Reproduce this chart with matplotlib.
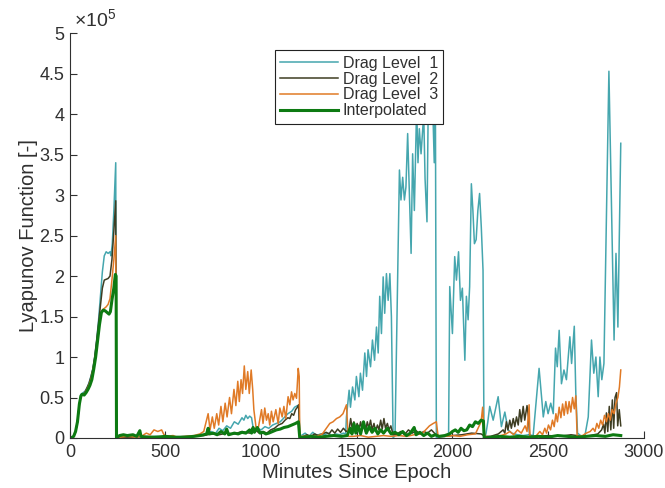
import matplotlib
matplotlib.use("Agg")
import matplotlib.pyplot as plt
from matplotlib.ticker import FuncFormatter

plt.rcParams['font.family'] = ['Liberation Sans', 'DejaVu Sans']
plt.rcParams['mathtext.fontset'] = 'custom'
plt.rcParams['mathtext.rm'] = 'Liberation Sans'

# ---------------- data (values in units of 1e5) ----------------
t1 = [0,10,20,30,40,50,58,70,80,90,100,110,120,130,140,150,160,170,180,190,200,210,215,222,230,240,243,
      260,300,350,400,450,500,550,600,650,700,720,740,760,780,800,820,840,860,880,900,910,920,930,940,950,960,980,
      1000,1020,1040,1060,1080,1100,1120,1140,1160,1175,1190,1198,1202,1210,1230,1250,1270,1290,1310,1330,1350,1370,
      1390,1410,1430,1442,
      1446,1460,1467,1478,1490,1498,1511,1519,1530,1542,1551,1559,1572,1582,1593,1603,1612,1620,1629,1638,1646,1655,
      1664,1673,1681,1690,1700,
      1723,1731,1740,1749,1757,1766,1784,1792,1801,1813,1820,1827,1836,1850,1857,1867,1874,1882,1888,1897,1905,1911,1916,
      1925,1960,1980,1986,2000,2012,2021,2032,2042,2052,2065,2073,2082,2090,2099,2107,2115,2124,2133,2142,2151,2160,2165,
      2175,2185,2195,2213,2239,2256,2274,2291,2310,2340,2370,2400,2422,2453,2475,2488,2500,2514,2527,2539,2548,2558,
      2570,2583,2596,2614,2623,2637,2645,2654,2670,2692,2710,2727,2739,2750,2762,2771,2781,2792,2818,2845,2855,2865,2880]
v1 = [0,0.005,0.02,0.08,0.2,0.42,0.54,0.56,0.58,0.62,0.68,0.76,0.85,1.0,1.2,1.45,1.75,2.05,2.25,2.3,2.28,2.3,2.25,2.4,2.8,3.4,0.0,
      0.02,0.01,0.02,0.01,0.02,0.01,0.01,0.02,0.02,0.04,0.06,0.08,0.05,0.12,0.09,0.15,0.12,0.2,0.17,0.25,0.22,0.28,0.24,0.27,0.25,0.1,0.12,
      0.1,0.14,0.12,0.16,0.18,0.2,0.25,0.3,0.33,0.38,0.4,0.38,0.0,0.03,0.06,0.02,0.07,0.03,0.05,0.04,0.06,0.03,
      0.05,0.04,0.06,0.05,
      0.26,0.59,0.38,0.63,0.47,0.76,0.51,0.80,0.59,1.05,0.76,1.09,0.88,1.21,0.96,1.37,1.05,1.75,1.29,1.99,1.54,2.03,
      1.70,2.03,1.50,0.0,0.03,
      3.31,2.94,3.22,2.94,3.1,3.76,2.28,3.51,2.81,4.1,3.4,3.82,3.51,4.0,3.2,2.67,4.2,3.9,4.3,4.1,3.4,4.2,0.0,
      0.01,0.02,0.05,1.87,1.29,2.24,1.95,2.30,1.70,1.85,0.96,1.75,1.46,1.87,3.14,2.81,2.40,2.45,2.81,3.02,2.6,2.07,0.0,
      0.05,0.2,0.39,0.22,0.51,0.14,0.32,0.10,0.06,0.04,0.03,0.04,0.03,0.86,0.26,0.45,0.30,0.43,0.30,1.11,0.88,1.33,
      0.67,0.84,0.72,1.25,0.92,1.38,0.55,0.06,0.03,0.02,0.26,1.21,0.80,1.00,0.51,1.0,0.72,0.92,4.53,1.21,2.28,1.37,3.64]

t2 = [0,10,20,30,40,50,58,70,80,90,100,110,120,130,140,150,160,170,180,190,200,210,220,230,240,243,
      260,320,400,480,560,640,700,740,780,820,860,900,940,970,990,1010,1030,1050,1070,1090,1110,1125,1140,1150,1160,
      1170,1180,1190,1196,1202,
      1220,1240,1260,1280,1300,1320,1340,1355,1370,1385,1400,1415,1430,1445,1460,1468,1476,1485,1493,1502,1510,1520,
      1528,1537,1545,1555,1563,1572,1580,1590,1598,1608,1616,1625,1633,1642,1650,1660,1668,1678,1690,
      1710,1730,1750,1770,1790,1810,1830,1850,1870,1890,1910,1930,1960,2000,2050,2100,2150,2170,2200,2240,2265,2274,
      2282,2290,2300,2308,2318,2326,2335,2344,2352,2360,2370,2378,2390,2398,2404,2440,2500,2560,2620,2680,2720,2760,
      2780,2790,2797,2805,2812,2820,2828,2836,2843,2850,2858,2864,2872,2880]
v2 = [0,0.005,0.02,0.08,0.2,0.42,0.52,0.54,0.57,0.62,0.67,0.75,0.85,1.0,1.2,1.42,1.65,1.85,1.95,1.96,1.97,2.0,2.2,2.55,2.93,0.0,
      0.01,0.01,0.02,0.01,0.01,0.02,0.03,0.05,0.04,0.06,0.05,0.08,0.06,0.1,0.06,0.08,0.06,0.1,0.12,0.16,0.18,0.22,0.25,0.24,0.3,
      0.28,0.35,0.38,0.41,0.0,
      0.02,0.04,0.02,0.05,0.03,0.05,0.07,0.05,0.1,0.06,0.11,0.07,0.12,0.08,0.1,0.24,0.12,0.2,0.1,0.18,0.09,0.2,
      0.1,0.16,0.08,0.2,0.12,0.22,0.1,0.18,0.08,0.16,0.1,0.22,0.11,0.24,0.12,0.18,0.1,0.15,0.04,
      0.05,0.08,0.04,0.1,0.06,0.09,0.05,0.08,0.06,0.1,0.05,0.02,0.02,0.03,0.04,0.06,0.05,0.02,0.02,0.05,0.1,0.06,
      0.2,0.1,0.22,0.12,0.24,0.14,0.26,0.16,0.35,0.2,0.39,0.22,0.4,0.25,0.02,0.02,0.03,0.02,0.04,0.02,0.03,0.05,
      0.1,0.17,0.06,0.31,0.08,0.39,0.1,0.47,0.12,0.5,0.56,0.15,0.35,0.15]

t3 = [0,10,20,30,40,50,58,70,80,90,100,110,120,130,140,150,160,170,180,190,200,210,220,230,240,243,
      260,300,350,380,400,420,440,460,480,490,500,540,560,600,650,680,700,
      723,733,745,755,768,778,790,800,812,822,835,845,858,868,878,886,895,903,912,920,930,938,948,956,962,975,985,
      1002,1010,1019,1028,1037,1045,1054,1063,1077,1089,1098,1110,1119,1129,1141,1150,1159,1167,1176,1185,1194,1199,1202,
      1220,1260,1289,1320,1341,1359,1376,1394,1411,1428,1446,1455,
      1480,1520,1560,1600,1640,1680,1720,1760,1800,1840,1860,1880,1900,1916,1925,1960,2000,2040,2080,2120,2150,2158,
      2165,2170,2200,2240,2280,2300,2320,2340,2360,2380,2390,2401,2405,2420,
      2439,2457,2471,2483,2492,2502,2513,2523,2532,2541,2549,2558,2567,2576,2584,2593,2602,2610,2619,2628,2637,2645,2652,
      2680,2700,2720,2735,2745,2755,2765,2775,2785,2795,2805,2815,2825,2835,2845,2855,2865,2873,2880]
v3 = [0,0.005,0.02,0.08,0.2,0.42,0.52,0.53,0.56,0.6,0.65,0.72,0.82,0.95,1.1,1.3,1.5,1.58,1.6,1.62,1.65,1.72,1.95,2.2,2.5,0.0,
      0.01,0.02,0.01,0.03,0.06,0.04,0.1,0.08,0.1,0.05,0.02,0.03,0.01,0.02,0.03,0.05,0.08,
      0.30,0.1,0.26,0.12,0.3,0.16,0.39,0.2,0.43,0.26,0.5,0.3,0.6,0.4,0.7,0.45,0.72,0.55,0.89,0.6,0.82,0.55,0.84,0.6,0.35,0.1,0.12,
      0.35,0.18,0.37,0.22,0.30,0.16,0.33,0.20,0.35,0.18,0.37,0.26,0.39,0.24,0.51,0.41,0.57,0.47,0.55,0.49,0.86,0.76,0.02,
      0.02,0.03,0.02,0.05,0.12,0.18,0.2,0.24,0.26,0.30,0.41,0.02,
      0.02,0.03,0.01,0.02,0.03,0.02,0.03,0.02,0.04,0.05,0.1,0.15,0.18,0.2,0.02,0.02,0.03,0.02,0.04,0.05,0.2,0.38,
      0.1,0.02,0.01,0.02,0.05,0.08,0.04,0.1,0.06,0.15,0.08,0.41,0.02,0.01,
      0.03,0.08,0.04,0.12,0.06,0.16,0.10,0.22,0.14,0.3,0.2,0.38,0.25,0.42,0.28,0.45,0.3,0.45,0.32,0.5,0.36,0.52,0.02,
      0.03,0.06,0.08,0.12,0.08,0.18,0.12,0.22,0.16,0.28,0.2,0.3,0.22,0.35,0.3,0.43,0.5,0.63,0.84]

t4 = [0,10,20,30,40,50,58,65,75,85,95,105,115,125,135,145,155,165,175,185,195,205,212,220,230,238,242,244,
      260,280,300,330,350,366,372,400,450,500,550,600,650,680,700,715,723,730,750,770,790,810,820,830,860,880,900,920,
      940,950,958,965,980,995,1010,1025,1040,1060,1080,1100,1120,1140,1160,1180,1195,1202,
      1220,1260,1300,1340,1380,1420,1450,1465,1475,1485,1495,1505,1520,1535,1550,1565,1580,1595,1610,1625,1640,1660,
      1680,1700,1720,1740,1760,1780,1800,1810,1830,1850,1870,1890,1910,1930,1960,1985,2000,2015,2030,2045,2060,2075,
      2090,2105,2120,2135,2150,2162,2166,
      2200,2250,2300,2350,2400,2450,2500,2550,2600,2650,2700,2750,2800,2840,2880]
v4 = [0,0.005,0.02,0.08,0.2,0.42,0.52,0.54,0.53,0.56,0.6,0.65,0.72,0.85,1.0,1.2,1.4,1.55,1.58,1.57,1.55,1.53,1.56,1.7,1.85,2.02,2.0,0.0,
      0.03,0.04,0.03,0.04,0.02,0.09,0.02,0.01,0.01,0.02,0.01,0.01,0.02,0.03,0.04,0.05,0.12,0.05,0.06,0.04,0.08,0.05,0.11,0.04,0.06,0.05,0.07,0.06,
      0.1,0.06,0.13,0.07,0.13,0.06,0.07,0.05,0.06,0.08,0.1,0.11,0.13,0.14,0.16,0.18,0.2,0.0,
      0.01,0.02,0.01,0.02,0.03,0.02,0.03,0.12,0.05,0.18,0.06,0.15,0.05,0.2,0.06,0.14,0.07,0.12,0.05,0.1,0.06,0.12,
      0.05,0.07,0.04,0.08,0.03,0.06,0.13,0.04,0.07,0.03,0.06,0.02,0.04,0.02,0.03,0.05,0.08,0.1,0.07,0.12,0.09,0.1,
      0.16,0.14,0.2,0.18,0.22,0.21,0.0,
      0.01,0.02,0.01,0.02,0.01,0.02,0.01,0.03,0.02,0.01,0.02,0.03,0.02,0.04,0.03]

labels = ['Drag Level  1', 'Drag Level  2', 'Drag Level  3', 'Interpolated']
x_ticks = [0, 500, 1000, 1500, 2000, 2500, 3000]
y_ticks = [0, 0.5, 1, 1.5, 2, 2.5, 3, 3.5, 4, 4.5, 5]

# ---------------- plot ----------------
fig = plt.figure(figsize=(6.65, 4.88), dpi=100)
ax = fig.add_axes([0.105, 0.1025, 0.863, 0.8295])

c1, c2, c3, c4 = '#45a6ae', '#3e3d22', '#e07a26', '#0d7a12'
ax.plot(t1, v1, color=c1, lw=1.1, label=labels[0])
ax.plot(t2, v2, color=c2, lw=1.1, label=labels[1])
ax.plot(t3, v3, color=c3, lw=1.1, label=labels[2])
ax.plot(t4, v4, color=c4, lw=2.2, label=labels[3])

ax.set_xlim(0, 3000)
ax.set_ylim(0, 5)
ax.set_xticks(x_ticks)
ax.set_yticks(y_ticks)
ax.yaxis.set_major_formatter(FuncFormatter(lambda v, p: f'{v:g}'))

tc = '#303030'
for s in ['top', 'right']:
    ax.spines[s].set_visible(False)
for s in ['left', 'bottom']:
    ax.spines[s].set_color(tc)
    ax.spines[s].set_linewidth(0.8)
ax.tick_params(direction='in', length=5, width=0.8, colors=tc, labelsize=13, pad=4)

ax.set_xlabel('Minutes Since Epoch', fontsize=14.5, color=tc, labelpad=2)
ax.set_ylabel('Lyapunov Function [-]', fontsize=14.5, color=tc, labelpad=1)
ax.text(0.008, 1.006, r'$\times10^{5}$', transform=ax.transAxes, fontsize=14,
        color=tc, ha='left', va='bottom')

leg = ax.legend(loc='upper left', bbox_to_anchor=(0.357, 0.958), borderaxespad=0,
                fontsize=11.5, fancybox=False, framealpha=1, edgecolor='#222222',
                handlelength=3.6, labelspacing=0.05, handletextpad=0.3, borderpad=0.35)
leg.get_frame().set_linewidth(0.8)
for txt in leg.get_texts():
    txt.set_color(tc)

fig.savefig('out.png', dpi=100)
